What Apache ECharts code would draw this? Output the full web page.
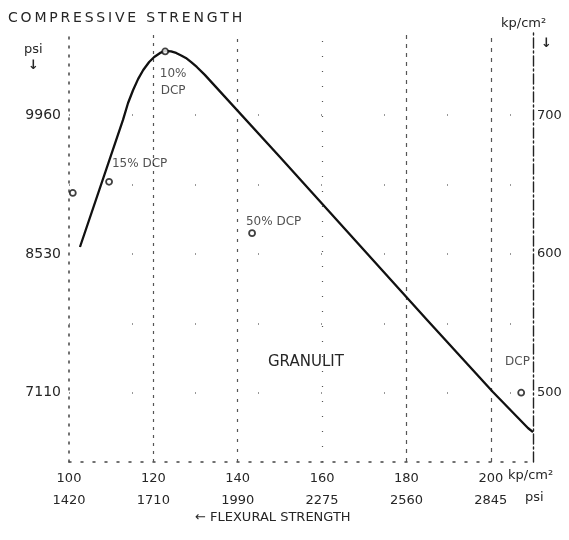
<!DOCTYPE html>
<html>
<head>
<meta charset="utf-8">
<style>html,body{margin:0;padding:0;background:#fff}#c{width:569px;height:540px}</style>
<script src="https://cdn.jsdelivr.net/npm/echarts@6/dist/echarts.min.js"></script>
</head>
<body>
<div id="c"></div>
<script>
// Flexural strength (kp/cm²) vs compressive strength (kp/cm²) – Granulit
const curveX = [102.6, 112.8, 114.0, 115.2, 116.4, 117.6, 119.0, 120.2, 121.6, 122.8, 124.2, 125.4, 126.6, 127.7, 128.9, 130.3, 132.2, 150.0, 184.9, 200.5, 208.8, 210.0];
const curveY = [605.0, 696.6, 708.8, 718.2, 726.2, 732.6, 738.4, 742.0, 744.9, 746.3, 746.0, 744.9, 743.1, 741.3, 738.4, 734.8, 729.1, 669.9, 552.4, 500.5, 474.5, 471.6];

const pointX = [100.9, 109.5, 122.8, 143.4, 207.2];
const pointY = [644, 652, 746, 615, 500];
const pointLabels = ['', '15% DCP', '10%\nDCP', '50% DCP', 'DCP'];

const xTicksKp = [100, 120, 140, 160, 180, 200];
const xTicksPsi = [1420, 1710, 1990, 2275, 2560, 2845];
const yTicksKp = [500, 600, 700];
const yTicksPsi = [7110, 8530, 9960];
const yGrid = [500, 550, 600, 650, 700];
const xGrid = [120, 140, 160, 180, 200];

const FONT = 'DejaVu Sans';
const TXT = '#262626';
const spaced = s => s.split('').join('\u2009');

const labelCfg = [
  {show:false},
  {show:true, position:'right', distance:0, offset:[-1,-18], align:'left'},
  {show:true, position:'bottom', distance:0, offset:[8,10], align:'center', lineHeight:17},
  {show:true, position:'right', distance:0, offset:[-10,-11], align:'left'},
  {show:true, position:'right', distance:0, offset:[-20,-31], align:'left'}
];

const chart = echarts.init(document.getElementById('c'), null, {renderer:'canvas'});

const gridStyles = {120: [3,5], 140: [3,7], 160: [1,14], 180: [4,5], 200: [4,6]};

const option = {
  animation: false,
  backgroundColor: '#fff',
  grid: {left: 69, right: 36, top: 32, bottom: 78},
  xAxis: {
    type: 'value', min: 100, max: 210, interval: 20,
    axisLine: {show: true, lineStyle: {color: '#444', type: [2,10], width: 1.5}},
    axisTick: {show: false},
    splitLine: {show: false},
    axisLabel: {
      margin: 6, color: TXT, fontFamily: FONT, fontSize: 13, lineHeight: 22,
      formatter: v => {
        const i = xTicksKp.indexOf(v);
        return i < 0 ? '' : xTicksKp[i] + '\n' + xTicksPsi[i];
      }
    }
  },
  yAxis: [
    {
      type: 'value', min: 450, max: 760, interval: 50, position: 'left',
      axisLine: {show: true, lineStyle: {color: '#444', type: [2,7], width: 1.5}},
      axisTick: {show: false}, splitLine: {show: false},
      axisLabel: {
        margin: 8, color: TXT, fontFamily: FONT, fontSize: 14,
        formatter: v => { const i = yTicksKp.indexOf(v); return i < 0 ? '' : String(yTicksPsi[i]); }
      }
    },
    {
      type: 'value', min: 450, max: 760, interval: 50, position: 'right',
      axisLine: {show: true, lineStyle: {color: '#222', type: [10,3,2,3], width: 1.4}},
      axisTick: {show: false}, splitLine: {show: false},
      axisLabel: {
        margin: 4, color: TXT, fontFamily: FONT, fontSize: 13,
        formatter: v => { const i = yTicksKp.indexOf(v); return i < 0 ? '' : String(yTicksKp[i]); }
      }
    }
  ],
  series: [
    {
      type: 'line', name: 'grid-x', data: [], silent: true,
      markLine: {
        silent: true, symbol: 'none', label: {show: false},
        data: xGrid.map(v => ({xAxis: v, lineStyle: {color: '#555', type: gridStyles[v], width: 1.2}}))
      }
    },
    {
      type: 'line', name: 'grid-y', data: [], silent: true,
      markLine: {
        silent: true, symbol: 'none', label: {show: false},
        data: yGrid.map(v => ({yAxis: v, lineStyle: {color: '#777', type: [1,62], width: 1.5}}))
      }
    },
    {
      type: 'line', name: 'Granulit',
      data: curveX.map((x, i) => [x, curveY[i]]),
      smooth: false, showSymbol: false,
      lineStyle: {color: '#111', width: 2.3, join: 'round'},
      z: 5
    },
    {
      type: 'scatter', name: 'DCP',
      data: pointX.map((x, i) => ({value: [x, pointY[i]], label: labelCfg[i]})),
      symbol: 'circle', symbolSize: 6,
      itemStyle: {color: '#fff', borderColor: '#111', borderWidth: 1.8},
      label: {
        color: TXT, fontFamily: FONT, fontSize: 12,
        formatter: p => pointLabels[p.dataIndex]
      },
      z: 6
    }
  ],
  graphic: [
    {type: 'text', left: 8, top: 11, style: {text: spaced('COMPRESSIVE STRENGTH'), font: '14px "DejaVu Sans"', fill: TXT}},
    {type: 'text', left: 24, top: 43, style: {text: 'psi', font: '13px "DejaVu Sans"', fill: TXT}},
    {type: 'text', left: 28, top: 59, style: {text: '↓', font: 'bold 13px "DejaVu Sans"', fill: TXT}},
    {type: 'text', left: 501, top: 17, style: {text: 'kp/cm²', font: '13px "DejaVu Sans"', fill: TXT}},
    {type: 'text', left: 541, top: 37, style: {text: '↓', font: 'bold 13px "DejaVu Sans"', fill: TXT}},
    {type: 'text', left: 268, top: 355, style: {text: 'GRANULIT', font: '15px "DejaVu Sans"', fill: TXT}},
    {type: 'text', left: 508, top: 469, style: {text: 'kp/cm²', font: '13px "DejaVu Sans"', fill: TXT}},
    {type: 'text', left: 525, top: 491, style: {text: 'psi', font: '13px "DejaVu Sans"', fill: TXT}},
    {type: 'text', left: 195, top: 511, style: {text: '← FLEXURAL STRENGTH', font: '13px "DejaVu Sans"', fill: TXT}}
  ]
};
chart.setOption(option);
</script>
</body>
</html>
